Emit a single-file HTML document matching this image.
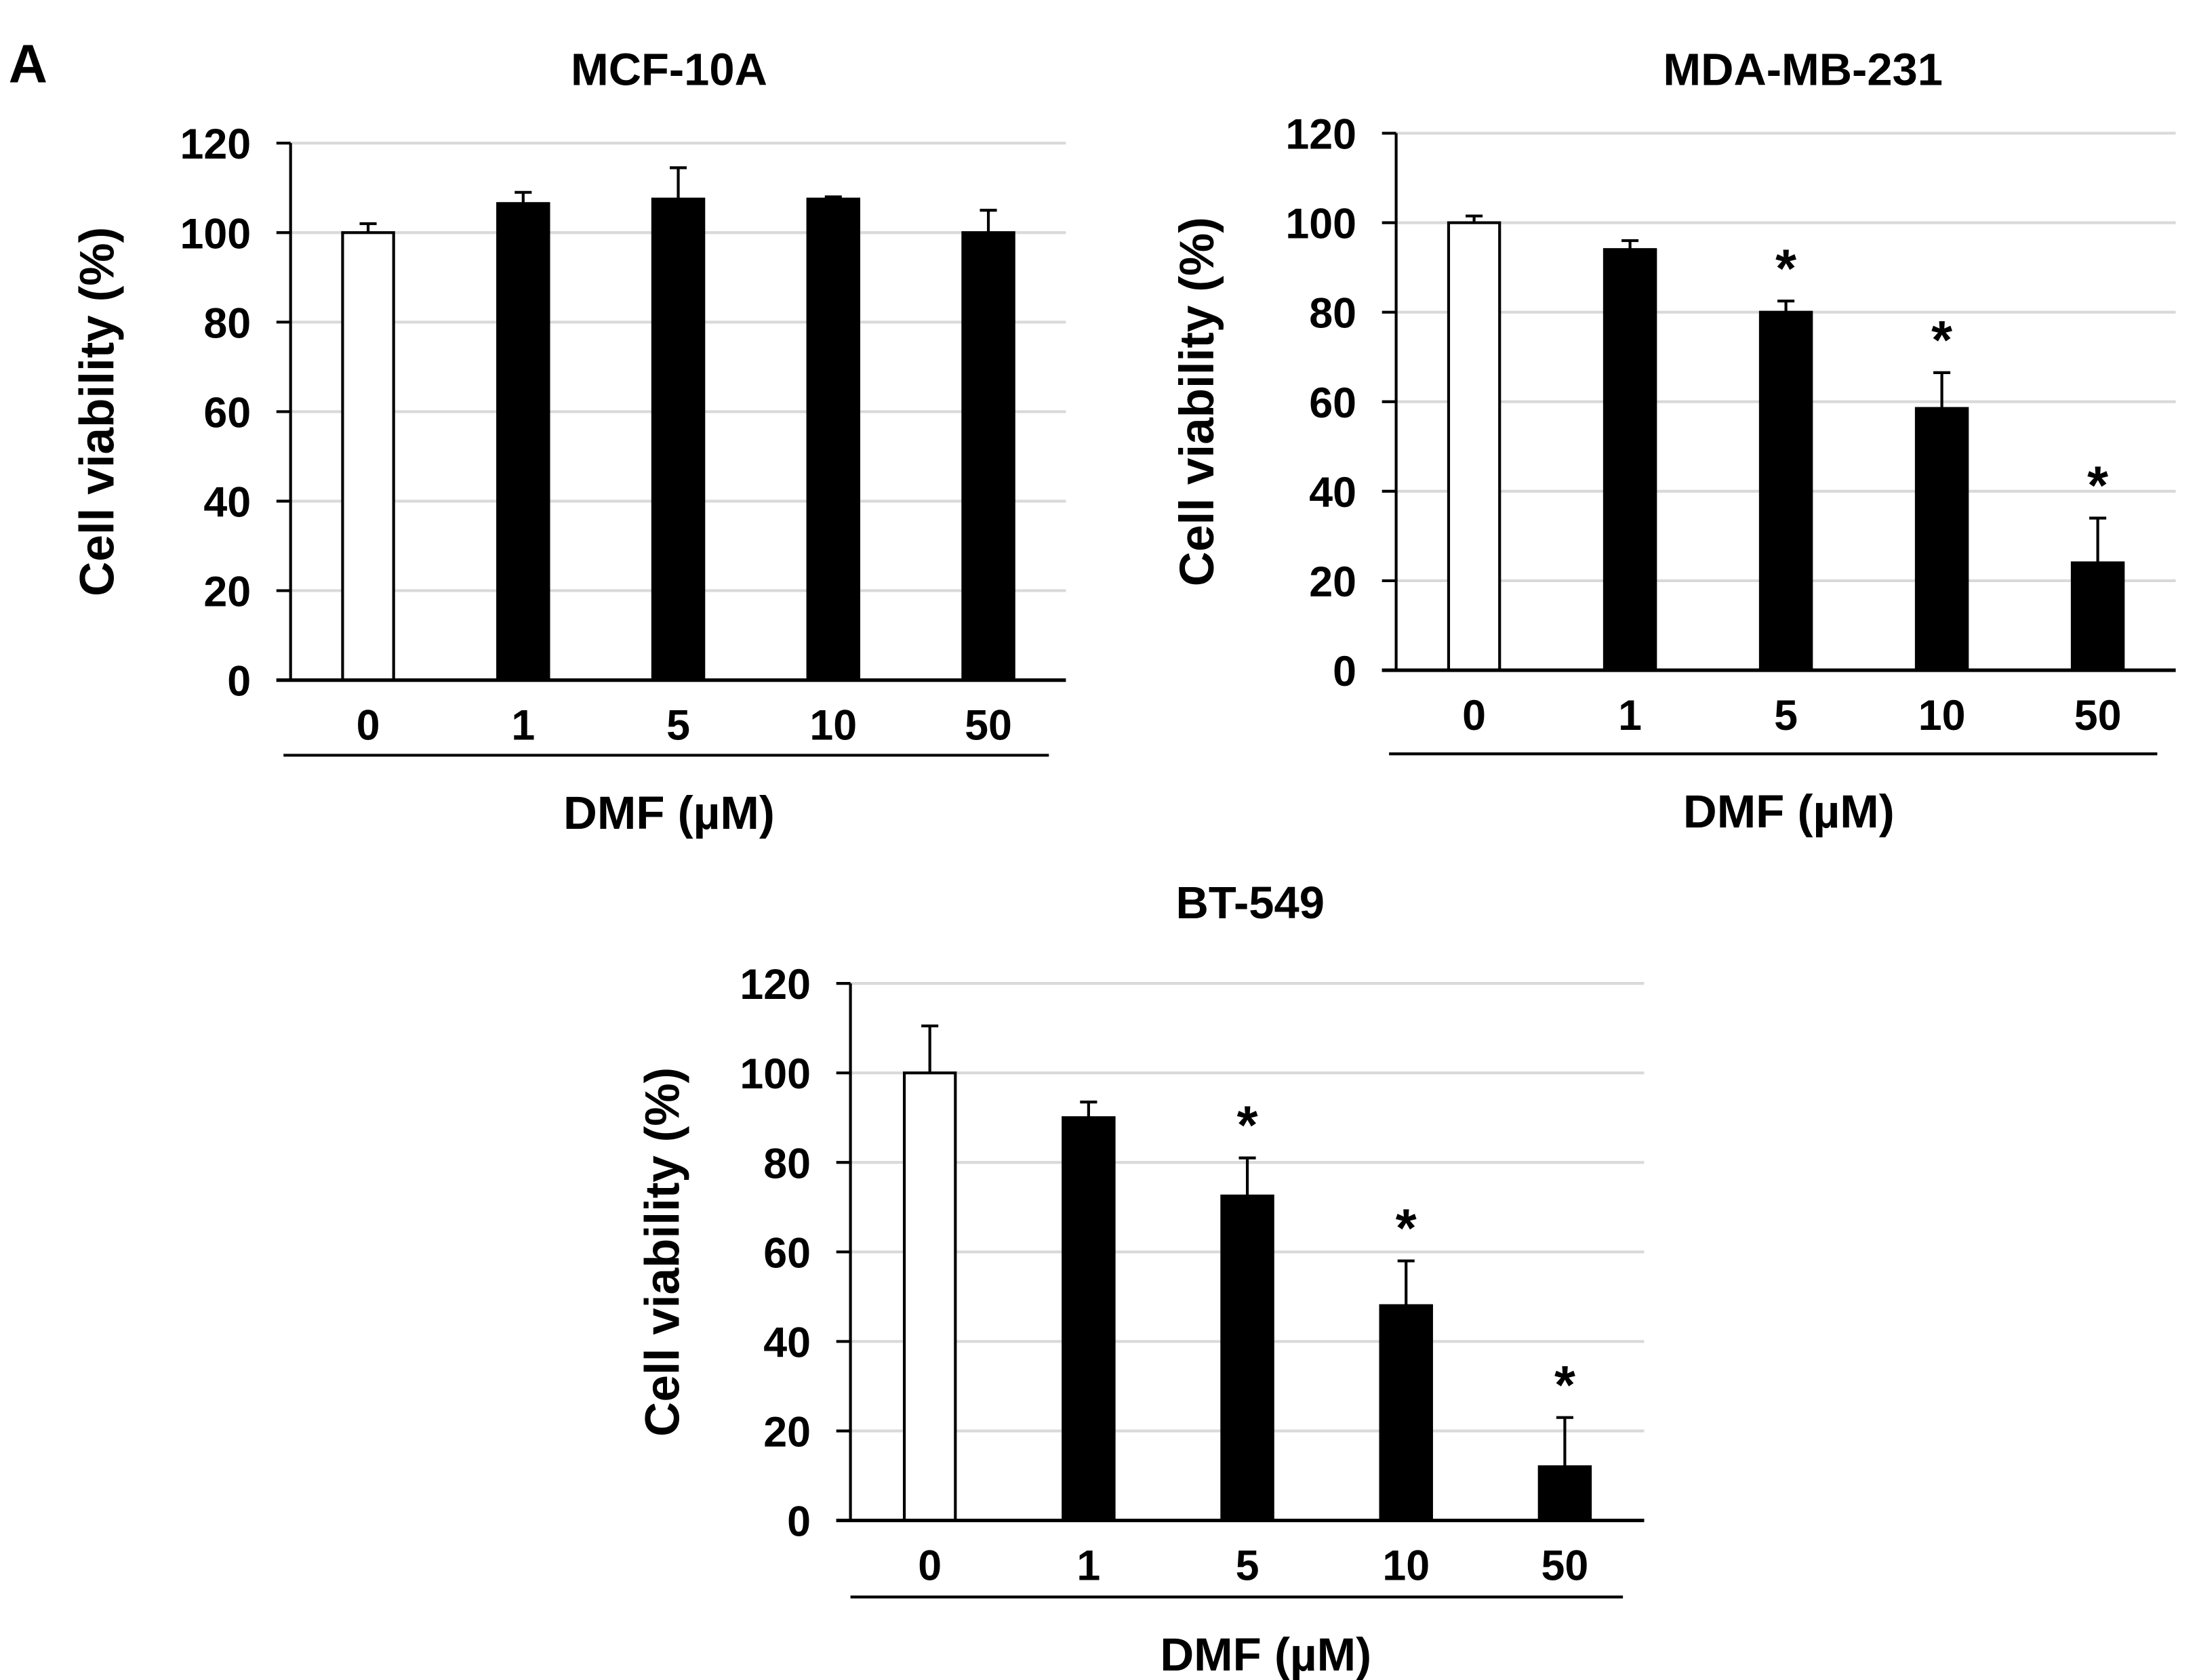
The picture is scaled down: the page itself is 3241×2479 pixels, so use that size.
<!DOCTYPE html>
<html><head><meta charset="utf-8"><style>
html,body{margin:0;padding:0;background:#fff}
svg{display:block}
text{font-family:"Liberation Sans",Arial,sans-serif;font-weight:bold;fill:#000}
.tk{font-family:"Liberation Sans Narrow","Liberation Sans",sans-serif;font-size:30px}
</style></head><body>
<svg id="fig" width="3241" height="2479" viewBox="0 0 1550 1185.6" xmlns="http://www.w3.org/2000/svg">
<text x="6" y="58" font-size="38">A</text>
</svg>
<script>
const categories = ["0","1","5","10","50"];
const yTicks = [0,20,40,60,80,100,120];
const mcfValues = [100,106.5,107.5,107.5,100];
const mcfErrors = [2,2.5,7,0.5,5];
const mcfStars = [false,false,false,false,false];
const mdaValues = [100,94,80,58.5,24];
const mdaErrors = [1.5,2,2.5,8,10];
const mdaStars = [false,false,true,true,true];
const btValues = [100,90,72.5,48,12];
const btErrors = [10.5,3.5,8.5,10,11];
const btStars = [false,false,true,true,true];

const NS="http://www.w3.org/2000/svg";
const svg=document.getElementById('fig');
function mk(tag,attrs,parent){const e=document.createElementNS(NS,tag);for(const k in attrs)e.setAttribute(k,attrs[k]);(parent||svg).appendChild(e);return e;}

function chart(cfg,values,errors,stars){
  const g=mk('g',{});
  
  
  const y=v=>cfg.y0-(v/120)*(cfg.y0-cfg.y120);
  const step=(cfg.right-cfg.ax)/categories.length;
  const x=i=>cfg.ax+step*(i+0.5);
  yTicks.forEach(t=>{
    if(t>0){const gl=mk('line',{x1:cfg.ax,x2:cfg.right,y1:y(t),y2:y(t),stroke:'#d9d9d9','stroke-width':2},g);
    
    }
    mk('line',{x1:cfg.ax-10,x2:cfg.ax,y1:y(t),y2:y(t),stroke:'#000','stroke-width':2},g);
    const tl=mk('text',{x:cfg.ax-28,y:y(t)+11,'text-anchor':'end',class:'tk'},g);
    tl.textContent=t;
    
    
  });
  const bw=36;
  values.forEach((v,i)=>{
    const cx=x(i);
    const eb=mk('g',{},g);
    
    
    mk('line',{x1:cx,x2:cx,y1:y(v),y2:y(v+errors[i]),stroke:'#000','stroke-width':2},eb);
    mk('line',{x1:cx-6,x2:cx+6,y1:y(v+errors[i]),y2:y(v+errors[i]),stroke:'#000','stroke-width':2},eb);
    const r=mk('rect',{x:cx-bw/2,y:y(v),width:bw,height:y(0)-y(v),fill:i===0?'#fff':'#000',stroke:'#000','stroke-width':2},g);
    
    
    if(stars[i]){
      const s=mk('text',{x:cx,y:y(v+errors[i])-10,'text-anchor':'middle','font-size':38},g);
      s.textContent='*';
      
      
    }
    const xl=mk('text',{x:cx,y:cfg.y0+42,'text-anchor':'middle',class:'tk'},g);
    xl.textContent=categories[i];
    
    
  });
  mk('line',{x1:cfg.ax,x2:cfg.ax,y1:y(120),y2:y(0),stroke:'#000','stroke-width':2},g);
  mk('line',{x1:cfg.ax-10,x2:cfg.right,y1:y(0),y2:y(0),stroke:'#000','stroke-width':2.5},g);
  mk('line',{x1:cfg.sepL,x2:cfg.sepR,y1:cfg.sepY,y2:cfg.sepY,stroke:'#000','stroke-width':2},g);
  const t=mk('text',{x:cfg.tx,y:cfg.ty,'text-anchor':'middle','font-size':32},g);
  t.textContent=cfg.title;
  
  
  const xt=mk('text',{x:cfg.dx,y:cfg.sepY+52,'text-anchor':'middle','font-size':33},g);
  xt.textContent='DMF (µM)';
  
  
  const cy=(y(0)+y(120))/2;
  const yt=mk('text',{x:cfg.ylx,y:cy,'text-anchor':'middle','font-size':34,transform:`rotate(-90 ${cfg.ylx} ${cy})`},g);
  yt.textContent='Cell viability (%)';
  
  
}
chart({name:'chart-mcf-10a',ax:205,right:752,y0:480,y120:101,sepL:200,sepR:740,sepY:533,tx:472,ty:60,dx:472,ylx:80,title:'MCF-10A'},mcfValues,mcfErrors,mcfStars);
chart({name:'chart-mda-mb-231',ax:985,right:1535,y0:473,y120:94,sepL:980,sepR:1522,sepY:532,tx:1272,ty:60,dx:1262,ylx:856,title:'MDA-MB-231'},mdaValues,mdaErrors,mdaStars);
chart({name:'chart-bt-549',ax:600,right:1160,y0:1073,y120:694,sepL:600,sepR:1145,sepY:1127,tx:882,ty:648,dx:893,ylx:479,title:'BT-549'},btValues,btErrors,btStars);
</script>
</body></html>
